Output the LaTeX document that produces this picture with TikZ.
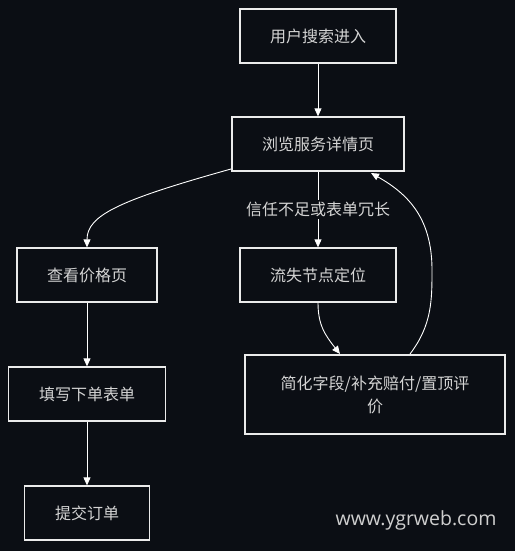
\documentclass[tikz,border=0pt]{standalone}
\usepackage{fontspec}
\newfontfamily\cjk{Noto Sans CJK SC}
\newfontfamily\wm{Open Sans}
\usetikzlibrary{arrows.meta}
\definecolor{bg}{HTML}{0B0E14}
\definecolor{txt}{HTML}{D4D4D4}
\definecolor{wmc}{HTML}{CFCFCF}
\begin{document}
\begin{tikzpicture}[x=1pt,y=-1pt,
  box/.style={draw=white!92!black,line width=1.3pt,fill=bg,text=txt,inner sep=0pt,
    font=\cjk\fontsize{16}{23}\selectfont,align=center},
  conn/.style={draw=white,line width=0.9pt,-{Triangle[width=7pt,length=8pt]}},
  lbl/.style={fill=bg,text=txt,font=\cjk\fontsize{16}{18}\selectfont,inner sep=2pt}]
\fill[bg] (0,0) rectangle (515,551);
\useasboundingbox (0,0) rectangle (515,551);
\node[box,minimum width=156pt,minimum height=54pt] (a) at (318,36) {用户搜索进入};
\node[box,minimum width=172pt,minimum height=54pt] (b) at (318,144) {浏览服务详情页};
\node[box,minimum width=140pt,minimum height=54pt] (c) at (87,275) {查看价格页};
\node[box,minimum width=156pt,minimum height=54pt] (d) at (318,275) {流失节点定位};
\node[box,minimum width=157pt,minimum height=54pt] (e) at (87,394) {填写下单表单};
\node[box,minimum width=260pt,minimum height=79pt] (f) at (375,394.5) {简化字段/补充赔付/置顶评\\价};
\node[box,minimum width=125pt,minimum height=54pt] (g) at (87,513) {提交订单};
\node[text=wmc,font=\wm\fontsize{19.5}{22}\selectfont,inner sep=0pt] (w) at (416,520) {www.ygrweb.com};
\coordinate (bl) at (231,169);
\coordinate (fo) at (410,354);
\coordinate (bi) at (371,173);
\coordinate (fi) at (340,354);
\path[conn] (a) -- (b);
\path[conn] (bl) .. controls (120,200) and (87,215) .. (c.north);
\path[conn] (b) -- node[lbl] (l) {信任不足或表单冗长} (d);
\path[conn] (d.south) .. controls (318,325) and (325,335) .. (fi);
\path[conn] (fo) .. controls (432,325) and (432,300) .. (432,270) .. controls (432,220) and (410,195) .. (bi);
\path[conn] (c) -- (e);
\path[conn] (e) -- (g);
\end{tikzpicture}
\end{document}
